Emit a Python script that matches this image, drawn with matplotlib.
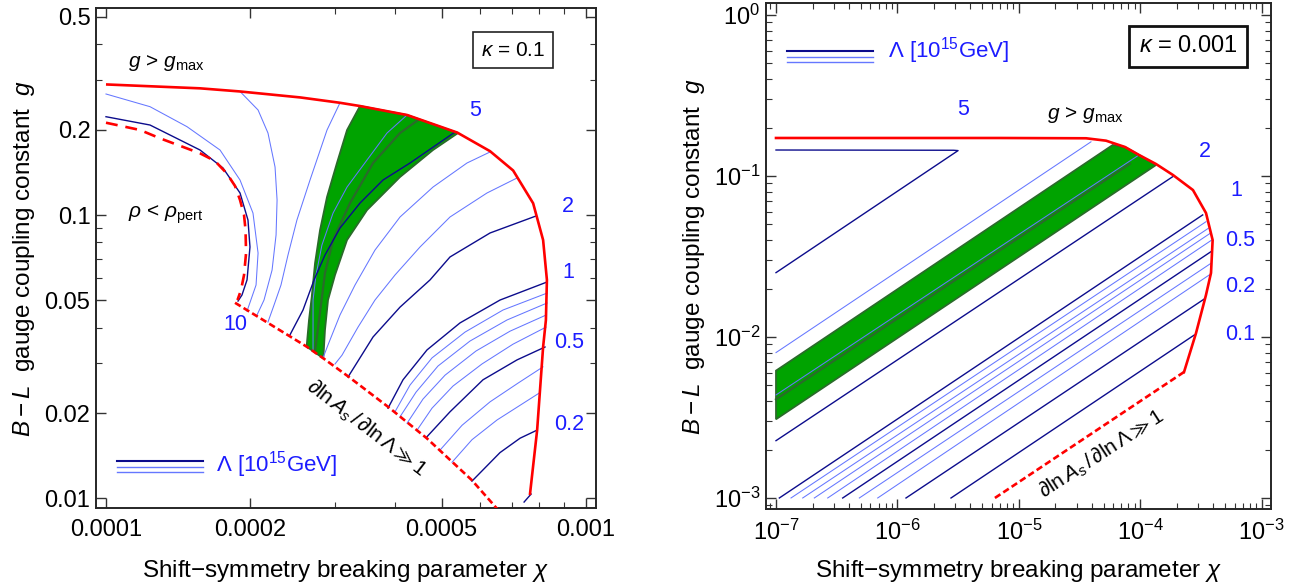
import matplotlib
matplotlib.use("Agg")
import matplotlib.pyplot as plt
from matplotlib.ticker import NullFormatter, LogLocator

plt.rcParams['font.family'] = ['Liberation Sans', 'DejaVu Sans']
plt.rcParams['mathtext.fontset'] = 'custom'
plt.rcParams['mathtext.rm'] = 'Liberation Sans'
plt.rcParams['mathtext.it'] = 'Liberation Sans:italic'
plt.rcParams['mathtext.bf'] = 'Liberation Sans:bold'
plt.rcParams['mathtext.sf'] = 'Liberation Sans'
plt.rcParams['mathtext.fallback'] = 'stixsans'

# ---------------- colours ----------------
RED = '#ff0000'
NAVY = '#0c0c8c'
LIGHT = '#6577ff'
LBLUE = '#1c1cff'
GREEN = '#00a300'
DGREEN = '#2a6b2a'

# =============== LEFT PANEL (kappa = 0.1) ===============
xL_major = [1e-4, 2e-4, 5e-4, 1e-3]
xL_labels = ['0.0001', '0.0002', '0.0005', '0.001']
xL_minor = [3e-4, 4e-4, 6e-4, 7e-4, 8e-4, 9e-4]
yL_major = [0.01, 0.02, 0.05, 0.1, 0.2, 0.5]
yL_labels = ['0.01', '0.02', '0.05', '0.1', '0.2', '0.5']
yL_minor = [0.03, 0.04, 0.06, 0.07, 0.08, 0.09, 0.3, 0.4]

L_gmax_chi = [1.00e-4, 1.57e-4, 1.90e-4, 2.54e-4, 3.07e-4, 3.38e-4, 4.24e-4, 5.39e-4, 6.31e-4,
              7.05e-4, 7.76e-4, 8.14e-4, 8.29e-4, 8.25e-4, 8.14e-4, 7.91e-4, 7.64e-4]
L_gmax_g = [0.289, 0.280, 0.273, 0.260, 0.249, 0.2425, 0.2254, 0.1955, 0.168,
            0.1436, 0.110, 0.0816, 0.059, 0.0426, 0.0342, 0.0174, 0.01027]
L_pert_chi = [1.00e-4, 1.177e-4, 1.296e-4, 1.570e-4, 1.687e-4, 1.784e-4, 1.857e-4, 1.902e-4,
              1.939e-4, 1.953e-4, 1.958e-4, 1.939e-4, 1.911e-4, 1.879e-4]
L_pert_g = [0.2117, 0.1996, 0.1865, 0.1651, 0.1551, 0.1404, 0.1266, 0.113,
            0.100, 0.0885, 0.0734, 0.0614, 0.0543, 0.0501]
L_dAs_chi = [1.857e-4, 2.619e-4, 2.836e-4, 3.198e-4, 3.874e-4, 4.657e-4, 5.78e-4, 6.515e-4, 6.78e-4]
L_dAs_g = [0.0490, 0.0343, 0.0312, 0.0269, 0.0210, 0.0163, 0.0116, 0.00922, 0.00852]

L_band_chi = [3.382e-4, 3.178e-4, 3.028e-4, 2.887e-4, 2.792e-4, 2.726e-4, 2.683e-4, 2.648e-4, 2.618e-4,
              2.836e-4, 2.859e-4, 2.901e-4, 3.000e-4, 3.178e-4, 3.498e-4, 4.098e-4, 4.800e-4, 5.412e-4,
              4.238e-4]
L_band_g = [0.2425, 0.1995, 0.1526, 0.1158, 0.0885, 0.0677, 0.0514, 0.0426, 0.0343,
            0.0312, 0.0393, 0.0501, 0.0614, 0.0816, 0.1041, 0.1362, 0.1696, 0.1947,
            0.2254]
L_center_chi = [4.467e-4, 4.098e-4, 3.600e-4, 3.224e-4, 2.972e-4, 2.859e-4, 2.818e-4, 2.726e-4]
L_center_g = [0.2164, 0.1947, 0.1526, 0.1102, 0.0816, 0.0624, 0.0514, 0.0331]

# Lambda contours, left panel
L10_chi = [1.000e-4, 1.235e-4, 1.426e-4, 1.570e-4, 1.753e-4, 1.902e-4, 1.976e-4, 1.995e-4, 1.967e-4, 1.920e-4, 1.884e-4]
L10_g = [0.2223, 0.2078, 0.184, 0.1696, 0.1465, 0.1196, 0.096, 0.0771, 0.059, 0.0522, 0.0497]
L9_chi = [1.000e-4, 1.235e-4, 1.475e-4, 1.728e-4, 1.902e-4, 2.024e-4, 2.074e-4, 2.054e-4, 1.967e-4]
L9_g = [0.2674, 0.2412, 0.2050, 0.1696, 0.1329, 0.1016, 0.0734, 0.0566, 0.0458]
L8_chi = [1.902e-4, 2.074e-4, 2.175e-4, 2.250e-4, 2.272e-4, 2.261e-4, 2.218e-4, 2.134e-4, 2.064e-4]
L8_g = [0.2729, 0.2348, 0.1947, 0.1477, 0.1130, 0.0850, 0.0639, 0.0501, 0.0444]
L7_chi = [3.073e-4, 2.887e-4, 2.661e-4, 2.499e-4, 2.394e-4, 2.315e-4, 2.239e-4, 2.175e-4]
L7_g = [0.2491, 0.1995, 0.1329, 0.0960, 0.0722, 0.0566, 0.0481, 0.0419]
L6_chi = [4.238e-4, 3.850e-4, 3.498e-4, 3.178e-4, 2.972e-4, 2.818e-4, 2.738e-4, 2.700e-4, 2.700e-4]
L6_g = [0.2254, 0.1947, 0.1564, 0.1255, 0.1016, 0.0784, 0.0614, 0.0501, 0.0334]
L5_chi = [5.335e-4, 4.299e-4, 3.777e-4, 3.382e-4, 3.073e-4, 2.859e-4, 2.713e-4, 2.573e-4, 2.416e-4]
L5_g = [0.1963, 0.1526, 0.1329, 0.1102, 0.0900, 0.0722, 0.0590, 0.0462, 0.0377]
L4_chi = [6.310e-4, 5.650e-4, 4.800e-4, 4.098e-4, 3.634e-4, 3.302e-4, 3.073e-4, 2.901e-4, 2.832e-4]
L4_g = [0.1669, 0.1526, 0.1255, 0.0984, 0.0752, 0.0566, 0.0444, 0.0348, 0.0313]
L3_chi = [7.183e-4, 6.219e-4, 5.208e-4, 4.510e-4, 4.000e-4, 3.634e-4, 3.350e-4, 3.102e-4, 3.000e-4]
L3_g = [0.1351, 0.1196, 0.0984, 0.0771, 0.0614, 0.0501, 0.0402, 0.0320, 0.0298]
L2_chi = [3.193e-4, 3.600e-4, 4.098e-4, 4.732e-4, 5.208e-4, 6.310e-4, 7.868e-4]
L2_g = [0.0268, 0.0371, 0.0473, 0.0590, 0.0711, 0.0864, 0.0992]
L1_chi = [3.868e-4, 4.157e-4, 4.664e-4, 5.464e-4, 6.620e-4, 8.294e-4]
L1_g = [0.0208, 0.0262, 0.0334, 0.0416, 0.0501, 0.0580]
L09_chi = [4.000e-4, 4.299e-4, 4.777e-4, 5.596e-4, 6.716e-4, 8.294e-4]
L09_g = [0.0202, 0.0251, 0.0313, 0.0386, 0.0462, 0.0530]
L08_chi = [4.098e-4, 4.425e-4, 4.916e-4, 5.732e-4, 6.845e-4, 8.294e-4]
L08_g = [0.0194, 0.0237, 0.0293, 0.0359, 0.0426, 0.0489]
L07_chi = [4.238e-4, 4.575e-4, 5.085e-4, 5.899e-4, 6.946e-4, 8.27e-4]
L07_g = [0.0184, 0.0224, 0.0272, 0.0331, 0.0389, 0.0444]
L06_chi = [4.446e-4, 4.777e-4, 5.283e-4, 6.072e-4, 7.046e-4, 8.254e-4]
L06_g = [0.0174, 0.0208, 0.0249, 0.0298, 0.0350, 0.0402]
L05_chi = [4.664e-4, 5.208e-4, 6.101e-4, 7.183e-4, 8.215e-4]
L05_g = [0.0165, 0.0202, 0.0262, 0.0308, 0.0342]
L04_chi = [4.965e-4, 5.517e-4, 6.310e-4, 7.217e-4, 8.136e-4]
L04_g = [0.0148, 0.0181, 0.0219, 0.0255, 0.0291]
L03_chi = [5.258e-4, 5.787e-4, 6.526e-4, 7.289e-4, 7.982e-4]
L03_g = [0.0134, 0.0161, 0.0189, 0.0213, 0.0235]
L02_chi = [5.787e-4, 6.620e-4, 7.289e-4, 7.905e-4]
L02_g = [0.0115, 0.0145, 0.0163, 0.0174]
L01_chi = [7.430e-4, 7.683e-4]
L01_g = [0.0097, 0.01035]

left_navy = [(L10_chi, L10_g), (L5_chi, L5_g), (L2_chi, L2_g), (L1_chi, L1_g),
             (L05_chi, L05_g), (L02_chi, L02_g), (L01_chi, L01_g)]
left_light = [(L9_chi, L9_g), (L8_chi, L8_g), (L7_chi, L7_g), (L6_chi, L6_g),
              (L4_chi, L4_g), (L3_chi, L3_g), (L09_chi, L09_g), (L08_chi, L08_g),
              (L07_chi, L07_g), (L06_chi, L06_g), (L04_chi, L04_g), (L03_chi, L03_g)]

left_labels = ['10', '5', '2', '1', '0.5', '0.2']
left_label_pos = [(0.278, 0.366), (0.758, 0.796), (0.944, 0.602), (0.944, 0.47), (0.946, 0.332), (0.946, 0.166)]

# =============== RIGHT PANEL (kappa = 0.001) ===============
R_gmax_chi = [1.0e-7, 7.0e-6, 3.58e-5, 5.23e-5, 7.49e-5, 9.77e-5, 1.349e-4, 1.862e-4, 2.72e-4,
              3.483e-4, 3.95e-4, 3.83e-4, 3.48e-4, 2.884e-4, 2.296e-4]
R_gmax_g = [0.1722, 0.1722, 0.1715, 0.1657, 0.1514, 0.1351, 0.1187, 0.1014, 0.0818,
            0.0589, 0.0400, 0.0250, 0.0182, 0.01059, 0.00606]
R_dAs_chi = [2.296e-4, 6.1e-6]
R_dAs_g = [0.00606, 9.8e-4]

R_band_chi = [1e-7, 5.94e-5, 7.49e-5, 9.77e-5, 1.349e-4, 1e-7]
R_band_g = [0.00618, 0.1558, 0.1514, 0.1351, 0.117, 0.003083]
R_center_chi = [1e-7, 8.2e-5]
R_center_g = [0.0041, 0.119]

R5_chi = [1e-7, 2.9e-6, 3.16e-6, 1e-7]
R5_g = [0.145, 0.1445, 0.1438, 0.0251]
R4_chi = [1e-7, 3.93e-5]
R4_g = [0.0080, 0.163]
R3_chi = [1e-7, 9.77e-5]
R3_g = [0.004365, 0.1351]
R2_chi = [1e-7, 1.852e-4]
R2_g = [0.00227, 0.0990]
R1_chi = [1.065e-7, 3.271e-4]
R1_g = [0.001, 0.0573]
R09_chi = [1.329e-7, 3.483e-4]
R09_g = [0.001, 0.0520]
R08_chi = [1.659e-7, 3.639e-4]
R08_g = [0.001, 0.0473]
R07_chi = [2.068e-7, 3.779e-4]
R07_g = [0.001, 0.0441]
R06_chi = [2.666e-7, 3.882e-4]
R06_g = [0.001, 0.0400]
R05_chi = [3.543e-7, 3.831e-4]
R05_g = [0.001, 0.0339]
R04_chi = [4.857e-7, 3.831e-4]
R04_g = [0.001, 0.0287]
R03_chi = [6.88e-7, 3.709e-4]
R03_g = [0.001, 0.0243]
R02_chi = [1.177e-6, 3.418e-4]
R02_g = [0.001, 0.01734]
R01_chi = [2.764e-6, 2.79e-4]
R01_g = [0.001, 0.01029]

right_navy = [(R5_chi, R5_g), (R2_chi, R2_g), (R1_chi, R1_g), (R05_chi, R05_g),
              (R02_chi, R02_g), (R01_chi, R01_g)]
right_light = [(R4_chi, R4_g), (R3_chi, R3_g), (R09_chi, R09_g), (R08_chi, R08_g),
               (R07_chi, R07_g), (R06_chi, R06_g), (R04_chi, R04_g), (R03_chi, R03_g)]
right_labels = ['5', '2', '1', '0.5', '0.2', '0.1']
right_label_pos = [(0.39, 0.789), (0.869, 0.706), (0.932, 0.630), (0.939, 0.531), (0.939, 0.439), (0.939, 0.344)]

# ---------------- figure ----------------
fig = plt.figure(figsize=(13.03, 5.88), dpi=100)
axL = fig.add_axes([96 / 1303, 80 / 588, 500 / 1303, 500 / 588])
axR = fig.add_axes([766 / 1303, 79.3 / 588, 505 / 1303, 505.4 / 588])


def style(ax):
    for s in ax.spines.values():
        s.set_linewidth(1.4)
        s.set_color('#262626')
    ax.tick_params(which='both', direction='in', top=True, right=True, color='#333333',
                   labelsize=17, labelcolor='black')
    ax.tick_params(which='major', length=7, width=1.0)
    ax.tick_params(which='minor', length=4, width=0.8)
    ax.tick_params(axis='x', which='both', pad=8)
    ax.tick_params(axis='y', which='both', pad=4)


ylabel = r'$B-L$  gauge coupling constant  $g$'
xlabel = r'Shift$-$symmetry breaking parameter $\chi$'

# ----- left -----
ax = axL
ax.set_xscale('log')
ax.set_yscale('log')
ax.set_xlim(9.532e-5, 1.0491e-3)
ax.set_ylim(0.009242, 0.5379)
ax.fill(L_band_chi, L_band_g, facecolor=GREEN, edgecolor=DGREEN, lw=1.3, zorder=1)
ax.plot(L_center_chi, L_center_g, color=DGREEN, lw=1.6, zorder=1.5)
for c, g in left_light:
    ax.plot(c, g, color=LIGHT, lw=0.75, zorder=2)
for c, g in left_navy:
    ax.plot(c, g, color=NAVY, lw=1.0, zorder=2.2)
ax.plot(L_gmax_chi, L_gmax_g, color=RED, lw=1.9, zorder=3, solid_capstyle='butt')
ax.plot(L_pert_chi, L_pert_g, color=RED, lw=1.9, ls=(0, (4.5, 3)), zorder=3)
ax.plot(L_dAs_chi, L_dAs_g, color=RED, lw=1.9, ls=(0, (2.5, 1.3)), zorder=3)
style(ax)
ax.set_xticks(xL_major)
ax.set_xticklabels(xL_labels)
ax.set_xticks(xL_minor, minor=True)
ax.set_yticks(yL_major)
ax.set_yticklabels(yL_labels)
ax.set_yticks(yL_minor, minor=True)
ax.xaxis.set_minor_formatter(NullFormatter())
ax.yaxis.set_minor_formatter(NullFormatter())
ax.set_ylabel(ylabel, fontsize=17.5)
ax.yaxis.set_label_coords(-0.117, 0.5)
ax.set_xlabel(xlabel, fontsize=17.5)
ax.xaxis.set_label_coords(0.5, -0.100)

ax.text(0.063, 0.89, r'$g$ > $g_{\mathrm{max}}$', transform=ax.transAxes, fontsize=15,
        ha='left', va='center')
ax.text(0.063, 0.586, r'$\rho$ < $\rho_{\mathrm{pert}}$', transform=ax.transAxes, fontsize=15,
        ha='left', va='center')
ax.text(0.834, 0.916, r'$\kappa$ = 0.1', transform=ax.transAxes, fontsize=15, ha='center', va='center',
        bbox=dict(boxstyle='square,pad=0.4', fc='white', ec='#222222', lw=1.2))
for lab, (px, py) in zip(left_labels, left_label_pos):
    ax.text(px, py, lab, transform=ax.transAxes, fontsize=15.5, color=LBLUE, ha='center', va='center')
ax.plot([0.041, 0.213], [0.094, 0.094], transform=ax.transAxes, color=NAVY, lw=1.5)
ax.plot([0.041, 0.213], [0.0826, 0.0826], transform=ax.transAxes, color=LIGHT, lw=1.0)
ax.plot([0.041, 0.213], [0.0714, 0.0714], transform=ax.transAxes, color=LIGHT, lw=1.0)
ax.text(0.241, 0.086, r'$\Lambda$ [10$^{15}$GeV]', transform=ax.transAxes, fontsize=16,
        color=LBLUE, ha='left', va='center')
ax.text(0.542, 0.16, r'$\partial\ln A_s\,/\,\partial\ln\Lambda\gg1$', transform=ax.transAxes,
        fontsize=15, rotation=-37.5, ha='center', va='center', rotation_mode='anchor')

# ----- right -----
ax = axR
ax.set_xscale('log')
ax.set_yscale('log')
ax.set_xlim(8.272e-8, 1.195e-3)
ax.set_ylim(8.58e-4, 1.182)
ax.fill(R_band_chi, R_band_g, facecolor=GREEN, edgecolor=DGREEN, lw=1.3, zorder=1)
ax.plot(R_center_chi, R_center_g, color=DGREEN, lw=1.6, zorder=1.5)
for c, g in right_light:
    ax.plot(c, g, color=LIGHT, lw=0.75, zorder=2)
for c, g in right_navy:
    ax.plot(c, g, color=NAVY, lw=1.0, zorder=2.2)
ax.plot(R_gmax_chi, R_gmax_g, color=RED, lw=1.9, zorder=3)
ax.plot(R_dAs_chi, R_dAs_g, color=RED, lw=1.9, ls=(0, (2.5, 1.3)), zorder=3)
style(ax)
ax.xaxis.set_major_locator(LogLocator(base=10, numticks=20))
ax.yaxis.set_major_locator(LogLocator(base=10, numticks=20))
ax.xaxis.set_minor_locator(LogLocator(base=10, subs=range(2, 10), numticks=100))
ax.yaxis.set_minor_locator(LogLocator(base=10, subs=range(2, 10), numticks=100))
ax.xaxis.set_minor_formatter(NullFormatter())
ax.yaxis.set_minor_formatter(NullFormatter())
ax.set_ylabel(ylabel, fontsize=17.5)
ax.yaxis.set_label_coords(-0.117, 0.5)
ax.set_xlabel(xlabel, fontsize=17.5)
ax.xaxis.set_label_coords(0.5, -0.098)

ax.text(0.632, 0.779, r'$g$ > $g_{\mathrm{max}}$', transform=ax.transAxes, fontsize=15,
        ha='center', va='center')
ax.text(0.836, 0.915, r'$\kappa$ = 0.001', transform=ax.transAxes, fontsize=17, ha='center', va='center',
        bbox=dict(boxstyle='square,pad=0.4', fc='white', ec='#111111', lw=2.0))
for lab, (px, py) in zip(right_labels, right_label_pos):
    ax.text(px, py, lab, transform=ax.transAxes, fontsize=15.5, color=LBLUE, ha='center', va='center')
ax.plot([0.042, 0.211], [0.906, 0.906], transform=ax.transAxes, color=NAVY, lw=1.5)
ax.plot([0.042, 0.211], [0.894, 0.894], transform=ax.transAxes, color=LIGHT, lw=1.0)
ax.plot([0.042, 0.211], [0.884, 0.884], transform=ax.transAxes, color=LIGHT, lw=1.0)
ax.text(0.242, 0.906, r'$\Lambda$ [10$^{15}$GeV]', transform=ax.transAxes, fontsize=16,
        color=LBLUE, ha='left', va='center')
ax.text(0.665, 0.108, r'$\partial\ln A_s\,/\,\partial\ln\Lambda\gg1$', transform=ax.transAxes,
        fontsize=15, rotation=33, ha='center', va='center', rotation_mode='anchor')

fig.savefig('out.png', dpi=100)
